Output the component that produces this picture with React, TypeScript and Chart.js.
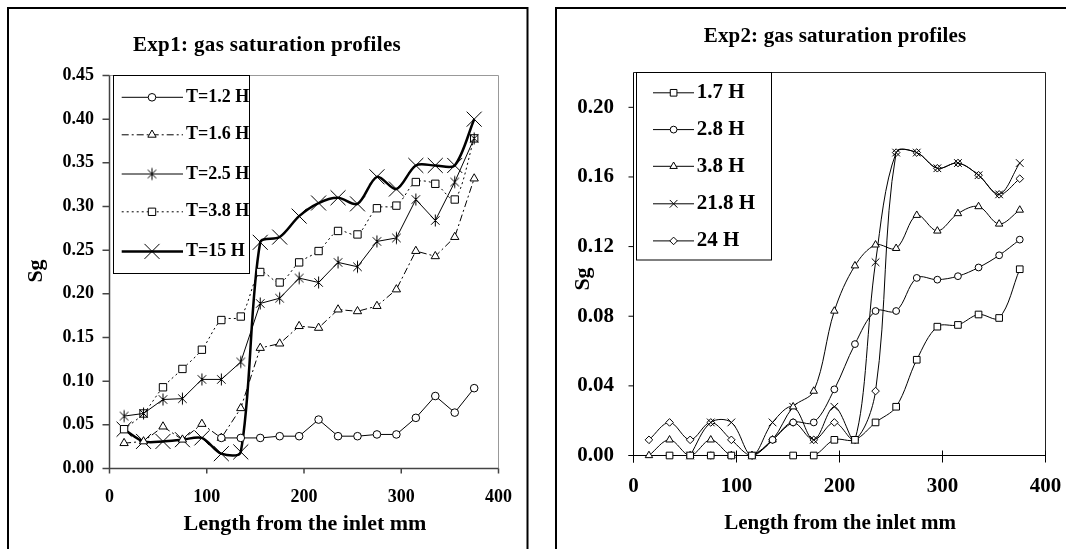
import { useEffect, useRef } from "react";
import { Chart, registerables } from "chart.js";
import { drawPoint } from "chart.js/helpers";

Chart.register(...registerables);

const SERIF = '"Liberation Serif", "Times New Roman", serif';

// Measurement stations along the core, mm from the inlet
const positions = [15, 35, 55, 75, 95, 115, 135, 155, 175, 195, 215, 235, 255, 275, 295, 315, 335, 355, 375];

// Exp1: gas saturation at each station, one list per elapsed time
const exp1T1_2 = [null, null, null, null, null, 0.035, 0.035, 0.035, 0.037, 0.037, 0.056, 0.037, 0.037, 0.039, 0.039, 0.058, 0.083, 0.064, 0.092];
const exp1T1_6 = [0.029, 0.031, 0.048, 0.033, 0.051, 0.035, 0.069, 0.138, 0.143, 0.163, 0.161, 0.182, 0.18, 0.186, 0.205, 0.249, 0.243, 0.265, 0.332];
const exp1T2_5 = [0.06, 0.063, 0.079, 0.08, 0.102, 0.102, 0.122, 0.189, 0.195, 0.218, 0.213, 0.236, 0.231, 0.26, 0.264, 0.308, 0.284, 0.328, 0.378];
const exp1T3_8 = [0.045, 0.063, 0.093, 0.114, 0.136, 0.17, 0.174, 0.225, 0.213, 0.236, 0.249, 0.272, 0.268, 0.298, 0.301, 0.328, 0.326, 0.308, 0.378];
const exp1T15 = [0.045, 0.031, 0.031, 0.033, 0.035, 0.017, 0.019, 0.259, 0.265, 0.289, 0.304, 0.31, 0.303, 0.334, 0.32, 0.347, 0.347, 0.347, 0.4];
const exp1Labels = ["T=1.2 H", "T=1.6 H", "T=2.5 H", "T=3.8 H", "T=15 H"];
const exp1XTicks = [0, 100, 200, 300, 400];
const exp1YTicks = [0, 0.05, 0.1, 0.15, 0.2, 0.25, 0.3, 0.35, 0.4, 0.45];

// Exp2: gas saturation at each station, one list per elapsed time
const exp2H1_7 = [null, 0, 0, 0, 0, 0, null, 0, 0, 0.009, 0.009, 0.019, 0.028, 0.055, 0.074, 0.075, 0.081, 0.079, 0.107];
const exp2H2_8 = [null, null, null, 0, 0, 0, 0.009, 0.019, 0.019, 0.038, 0.064, 0.083, 0.083, 0.102, 0.101, 0.103, 0.108, 0.115, 0.124];
const exp2H3_8 = [0, 0.009, 0, 0.009, 0, 0, 0.009, 0.028, 0.037, 0.083, 0.109, 0.121, 0.119, 0.138, 0.129, 0.139, 0.143, 0.133, 0.141];
const exp2H21_8 = [null, null, 0, 0.019, 0.019, 0, 0.019, 0.028, 0.009, 0.028, 0.009, 0.111, 0.174, 0.174, 0.165, 0.168, 0.161, 0.15, 0.168];
const exp2H24 = [0.009, 0.019, 0.009, 0.019, 0.009, 0, 0.009, 0.019, 0.009, 0.019, 0.009, 0.037, 0.174, 0.174, 0.165, 0.168, 0.161, 0.15, 0.159];
const exp2Labels = ["1.7 H", "2.8 H", "3.8 H", "21.8 H", "24 H"];
const exp2XTicks = [0, 100, 200, 300, 400];
const exp2YTicks = [0, 0.04, 0.08, 0.12, 0.16, 0.2];
const exp2YMax = 0.22;

type Style = { marker: any; radius: number; dash: number[]; width: number; tension: number };

// Six-spoke asterisk marker drawn once on a small canvas
function makeAsterisk(r: number): HTMLCanvasElement {
  const size = Math.ceil(r * 2 + 3);
  const c = document.createElement("canvas");
  c.width = size;
  c.height = size;
  const g = c.getContext("2d")!;
  const m = size / 2;
  const d = r * Math.SQRT1_2;
  g.strokeStyle = "#000";
  g.lineWidth = 1;
  g.beginPath();
  g.moveTo(m, m - r);
  g.lineTo(m, m + r);
  g.moveTo(m - d, m - d);
  g.lineTo(m + d, m + d);
  g.moveTo(m - d, m + d);
  g.lineTo(m + d, m - d);
  g.stroke();
  return c;
}

function buildDatasets(values: (number | null)[][], labels: string[], styles: Style[]) {
  return values.map((vals, i) => {
    const s = styles[i];
    return {
      label: labels[i],
      data: positions.map((x, j) => ({ x, y: vals[j] })),
      borderColor: "#000",
      borderWidth: s.width,
      borderDash: s.dash,
      pointStyle: s.marker,
      pointRadius: s.radius,
      pointBackgroundColor: "#fff",
      pointBorderColor: "#000",
      pointBorderWidth: 1,
      tension: s.tension,
      fill: false,
      clip: false,
      spanGaps: false,
    };
  });
}

type TextSpec = { text: string; x: number; y: number; size: number; spacing?: number };
type Deco = {
  box: { left: number; top: number; right?: number; bottom: number };
  axisColor: string;
  axisWidth: number;
  frameColor: string;
  yTickOut: number;
  xTickDown: number;
  xTickUp: number;
  yTickFont: number;
  xTickFont: number;
  yLabelRight: number;
  xLabelY: number;
  xTicks: number[];
  yTicks: number[];
  title: TextSpec;
  xTitle: TextSpec;
  yTitle: TextSpec;
  legend: {
    left: number; top: number; right: number; bottom: number;
    rows: number[]; lineFrom: number; lineTo: number; markerX: number; textX: number; size: number;
  };
  labels: string[];
  styles: Style[];
};

function drawText(ctx: CanvasRenderingContext2D, t: TextSpec, align: CanvasTextAlign = "center") {
  ctx.font = `bold ${t.size}px ${SERIF}`;
  (ctx as any).letterSpacing = `${t.spacing ?? 0}px`;
  ctx.textAlign = align;
  ctx.textBaseline = "middle";
  ctx.fillText(t.text, t.x, t.y);
  (ctx as any).letterSpacing = "0px";
}

function decorations(d: Deco) {
  return {
    id: "decorations",
    beforeDatasetsDraw(chart: any) {
      const { ctx, chartArea: a } = chart;
      const xs = chart.scales.x;
      const ys = chart.scales.y;
      ctx.save();
      ctx.setLineDash([]);
      // top and right edges of the plot area
      ctx.strokeStyle = d.frameColor;
      ctx.lineWidth = 1;
      ctx.beginPath();
      ctx.moveTo(a.left, a.top);
      ctx.lineTo(a.right, a.top);
      ctx.lineTo(a.right, a.bottom);
      ctx.stroke();
      // axes with tick marks
      ctx.strokeStyle = d.axisColor;
      ctx.lineWidth = d.axisWidth;
      ctx.beginPath();
      ctx.moveTo(a.left, a.top);
      ctx.lineTo(a.left, a.bottom + d.xTickDown);
      ctx.moveTo(a.left - d.yTickOut, a.bottom);
      ctx.lineTo(a.right, a.bottom);
      for (const v of d.yTicks) {
        const y = ys.getPixelForValue(v);
        ctx.moveTo(a.left - d.yTickOut, y);
        ctx.lineTo(a.left, y);
      }
      for (const v of d.xTicks) {
        const x = xs.getPixelForValue(v);
        ctx.moveTo(x, a.bottom - d.xTickUp);
        ctx.lineTo(x, a.bottom + d.xTickDown);
      }
      ctx.stroke();
      ctx.restore();
    },
    afterDraw(chart: any) {
      const { ctx } = chart;
      const xs = chart.scales.x;
      const ys = chart.scales.y;
      ctx.save();
      ctx.setLineDash([]);
      ctx.fillStyle = "#000";

      // outer chart border
      ctx.strokeStyle = "#000";
      ctx.lineWidth = 2;
      ctx.beginPath();
      ctx.moveTo(d.box.left, d.box.bottom);
      ctx.lineTo(d.box.left, d.box.top);
      ctx.lineTo(d.box.right ?? chart.width, d.box.top);
      if (d.box.right !== undefined) ctx.lineTo(d.box.right, d.box.bottom);
      ctx.stroke();

      // tick labels
      ctx.font = `bold ${d.yTickFont}px ${SERIF}`;
      ctx.textAlign = "right";
      ctx.textBaseline = "middle";
      for (const v of d.yTicks) ctx.fillText(v.toFixed(2), d.yLabelRight, ys.getPixelForValue(v));
      ctx.font = `bold ${d.xTickFont}px ${SERIF}`;
      ctx.textAlign = "center";
      for (const v of d.xTicks) ctx.fillText(String(v), xs.getPixelForValue(v), d.xLabelY);

      // titles
      drawText(ctx, d.title);
      drawText(ctx, d.xTitle);
      ctx.save();
      ctx.translate(d.yTitle.x, d.yTitle.y);
      ctx.rotate(-Math.PI / 2);
      drawText(ctx, { ...d.yTitle, x: 0, y: 0 });
      ctx.restore();

      // legend
      const L = d.legend;
      ctx.fillStyle = "#fff";
      ctx.fillRect(L.left, L.top, L.right - L.left, L.bottom - L.top);
      ctx.strokeStyle = "#000";
      ctx.lineWidth = 1;
      ctx.strokeRect(L.left, L.top, L.right - L.left, L.bottom - L.top);
      d.labels.forEach((label, i) => {
        const s = d.styles[i];
        const y = L.rows[i];
        ctx.strokeStyle = "#000";
        ctx.lineWidth = s.width;
        ctx.setLineDash(s.dash);
        ctx.beginPath();
        ctx.moveTo(L.lineFrom, y);
        ctx.lineTo(L.lineTo, y);
        ctx.stroke();
        ctx.setLineDash([]);
        ctx.lineWidth = 1;
        ctx.fillStyle = "#fff";
        drawPoint(ctx, { pointStyle: s.marker, radius: s.radius, rotation: 0, borderWidth: 1 } as any, L.markerX, y);
        ctx.fillStyle = "#000";
        drawText(ctx, { text: label, x: L.textX, y, size: L.size }, "left");
      });
      ctx.restore();
    },
  };
}

export default function App() {
  const leftRef = useRef<HTMLCanvasElement>(null);
  const rightRef = useRef<HTMLCanvasElement>(null);

  useEffect(() => {
    const asteriskBig = makeAsterisk(6);

    const exp1Styles: Style[] = [
      { marker: "circle", radius: 3.8, dash: [], width: 1, tension: 0 },
      { marker: "triangle", radius: 4.8, dash: [7, 3, 2, 3], width: 1, tension: 0 },
      { marker: asteriskBig, radius: 6, dash: [], width: 1, tension: 0 },
      { marker: "rect", radius: 5.2, dash: [2, 3], width: 1, tension: 0.3 },
      { marker: "crossRot", radius: 10.6, dash: [], width: 2.5, tension: 0.3 },
    ];
    const exp2Styles: Style[] = [
      { marker: "rect", radius: 4.7, dash: [], width: 1, tension: 0.35 },
      { marker: "circle", radius: 3.4, dash: [], width: 1, tension: 0.35 },
      { marker: "triangle", radius: 4.3, dash: [], width: 1, tension: 0.35 },
      { marker: "crossRot", radius: 5.4, dash: [], width: 1, tension: 0.35 },
      { marker: "rectRot", radius: 3.8, dash: [], width: 1, tension: 0.35 },
    ];

    const left = new Chart(leftRef.current!, {
      type: "line",
      data: {
        datasets: buildDatasets([exp1T1_2, exp1T1_6, exp1T2_5, exp1T3_8, exp1T15], exp1Labels, exp1Styles) as any,
      },
      options: {
        responsive: false,
        animation: false,
        devicePixelRatio: 1,
        events: [],
        layout: { padding: { left: 109.5, top: 75.5, right: 42.5, bottom: 80.5 } },
        scales: {
          x: { type: "linear", min: 0, max: 400, display: false },
          y: { type: "linear", min: 0, max: 0.45, display: false },
        },
        plugins: { legend: { display: false }, tooltip: { enabled: false }, title: { display: false } },
      },
      plugins: [
        decorations({
          box: { left: 8, top: 8, right: 527.5, bottom: 549 },
          axisColor: "#444",
          axisWidth: 1.5,
          frameColor: "#999",
          yTickOut: 7,
          xTickDown: 5,
          xTickUp: 0,
          yTickFont: 18,
          xTickFont: 18,
          yLabelRight: 94,
          xLabelY: 497.5,
          xTicks: exp1XTicks,
          yTicks: exp1YTicks,
          title: { text: "Exp1: gas saturation profiles", x: 267, y: 46, size: 21, spacing: 0.35 },
          xTitle: { text: "Length from the inlet mm", x: 305, y: 524, size: 22 },
          yTitle: { text: "Sg", x: 36, y: 271, size: 22 },
          legend: {
            left: 113.5, top: 75.5, right: 249.5, bottom: 273.5,
            rows: [97.3, 134.8, 174, 211.8, 251.4],
            lineFrom: 121.7, lineTo: 183, markerX: 152, textX: 186, size: 18,
          },
          labels: exp1Labels,
          styles: exp1Styles,
        }) as any,
      ],
    });

    const right = new Chart(rightRef.current!, {
      type: "line",
      data: {
        datasets: buildDatasets([exp2H1_7, exp2H2_8, exp2H3_8, exp2H21_8, exp2H24], exp2Labels, exp2Styles) as any,
      },
      options: {
        responsive: false,
        animation: false,
        devicePixelRatio: 1,
        events: [],
        layout: { padding: { left: 92.5, top: 72.5, right: 20.5, bottom: 93.5 } },
        scales: {
          x: { type: "linear", min: 0, max: 400, display: false },
          y: { type: "linear", min: 0, max: exp2YMax, display: false },
        },
        plugins: { legend: { display: false }, tooltip: { enabled: false }, title: { display: false } },
      },
      plugins: [
        decorations({
          box: { left: 15, top: 8, bottom: 549 },
          axisColor: "#000",
          axisWidth: 1,
          frameColor: "#222",
          yTickOut: 5,
          xTickDown: 7,
          xTickUp: 5,
          yTickFont: 21,
          xTickFont: 21,
          yLabelRight: 73,
          xLabelY: 486.7,
          xTicks: exp2XTicks,
          yTicks: exp2YTicks,
          title: { text: "Exp2: gas saturation profiles", x: 294, y: 37, size: 21, spacing: 0.15 },
          xTitle: { text: "Length from the inlet mm", x: 299, y: 523.5, size: 21 },
          yTitle: { text: "Sg", x: 42, y: 279, size: 22 },
          legend: {
            left: 95.5, top: 72.5, right: 230.5, bottom: 260,
            rows: [92.8, 129.6, 166.3, 203.8, 240.9],
            lineFrom: 112, lineTo: 153, markerX: 132.6, textX: 155.8, size: 21,
          },
          labels: exp2Labels,
          styles: exp2Styles,
        }) as any,
      ],
    });

    return () => {
      left.destroy();
      right.destroy();
    };
  }, []);

  return (
    <div style={{ position: "absolute", left: 0, top: 0, width: 1066, height: 549, background: "#fff", overflow: "hidden" }}>
      <canvas ref={leftRef} width={541} height={549} style={{ position: "absolute", left: 0, top: 0 }} />
      <canvas ref={rightRef} width={525} height={549} style={{ position: "absolute", left: 541, top: 0 }} />
    </div>
  );
}
